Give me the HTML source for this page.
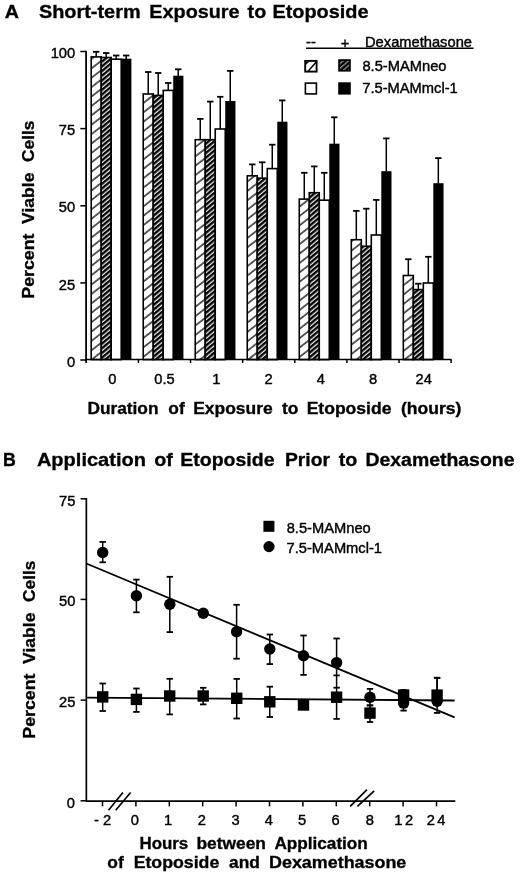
<!DOCTYPE html>
<html><head><meta charset="utf-8"><title>Figure</title>
<style>
html,body{margin:0;padding:0;background:#fff;width:520px;height:874px;overflow:hidden}
svg{display:block;filter:blur(0.4px)}
text{font-family:"Liberation Sans", sans-serif;fill:#000}
</style></head><body>
<svg width="520" height="874" viewBox="0 0 520 874">
<defs>
<pattern id="sp" patternUnits="userSpaceOnUse" width="20" height="7.407" patternTransform="rotate(-38)">
<rect y="5.9" width="20" height="1.25" fill="#000"/>
</pattern>
<pattern id="dn" patternUnits="userSpaceOnUse" width="20" height="3.6" patternTransform="rotate(-40)">
<rect width="20" height="3.6" fill="#000"/><rect y="2.35" width="20" height="1.25" fill="#f0f0f0"/>
</pattern>
<pattern id="dnl" patternUnits="userSpaceOnUse" width="20" height="3.6" y="3.0" patternTransform="rotate(-41)">
<rect width="20" height="3.6" fill="#000"/><rect y="1.2" width="20" height="0.9" fill="#d8d8d8"/>
</pattern>
</defs>
<line x1="96.20" y1="51.80" x2="96.20" y2="56.90" stroke="#000" stroke-width="1.5"/>
<line x1="93.00" y1="51.80" x2="99.40" y2="51.80" stroke="#000" stroke-width="1.8"/>
<rect x="91.20" y="56.90" width="10.00" height="302.70" fill="url(#sp)" stroke="#000" stroke-width="1.6"/>
<line x1="106.20" y1="53.00" x2="106.20" y2="57.50" stroke="#000" stroke-width="1.5"/>
<line x1="103.00" y1="53.00" x2="109.40" y2="53.00" stroke="#000" stroke-width="1.8"/>
<rect x="101.20" y="57.50" width="10.00" height="302.10" fill="url(#dn)" stroke="#000" stroke-width="1.6"/>
<line x1="116.20" y1="55.50" x2="116.20" y2="59.20" stroke="#000" stroke-width="1.5"/>
<line x1="113.00" y1="55.50" x2="119.40" y2="55.50" stroke="#000" stroke-width="1.8"/>
<rect x="111.20" y="59.20" width="10.00" height="300.40" fill="#fff" stroke="#000" stroke-width="1.6"/>
<line x1="126.20" y1="55.50" x2="126.20" y2="59.00" stroke="#000" stroke-width="1.5"/>
<line x1="123.00" y1="55.50" x2="129.40" y2="55.50" stroke="#000" stroke-width="1.8"/>
<rect x="121.20" y="58.70" width="10.20" height="300.90" fill="#000"/>
<line x1="148.22" y1="72.00" x2="148.22" y2="94.00" stroke="#000" stroke-width="1.5"/>
<line x1="145.02" y1="72.00" x2="151.42" y2="72.00" stroke="#000" stroke-width="1.8"/>
<rect x="143.22" y="94.00" width="10.00" height="265.60" fill="url(#sp)" stroke="#000" stroke-width="1.6"/>
<line x1="158.22" y1="73.00" x2="158.22" y2="95.40" stroke="#000" stroke-width="1.5"/>
<line x1="155.02" y1="73.00" x2="161.42" y2="73.00" stroke="#000" stroke-width="1.8"/>
<rect x="153.22" y="95.40" width="10.00" height="264.20" fill="url(#dn)" stroke="#000" stroke-width="1.6"/>
<line x1="168.22" y1="83.00" x2="168.22" y2="90.40" stroke="#000" stroke-width="1.5"/>
<line x1="165.02" y1="83.00" x2="171.42" y2="83.00" stroke="#000" stroke-width="1.8"/>
<rect x="163.22" y="90.40" width="10.00" height="269.20" fill="#fff" stroke="#000" stroke-width="1.6"/>
<line x1="178.22" y1="69.30" x2="178.22" y2="76.00" stroke="#000" stroke-width="1.5"/>
<line x1="175.02" y1="69.30" x2="181.42" y2="69.30" stroke="#000" stroke-width="1.8"/>
<rect x="173.22" y="75.70" width="10.20" height="283.90" fill="#000"/>
<line x1="200.24" y1="118.90" x2="200.24" y2="139.70" stroke="#000" stroke-width="1.5"/>
<line x1="197.04" y1="118.90" x2="203.44" y2="118.90" stroke="#000" stroke-width="1.8"/>
<rect x="195.24" y="139.70" width="10.00" height="219.90" fill="url(#sp)" stroke="#000" stroke-width="1.6"/>
<line x1="210.24" y1="101.60" x2="210.24" y2="139.70" stroke="#000" stroke-width="1.5"/>
<line x1="207.04" y1="101.60" x2="213.44" y2="101.60" stroke="#000" stroke-width="1.8"/>
<rect x="205.24" y="139.70" width="10.00" height="219.90" fill="url(#dn)" stroke="#000" stroke-width="1.6"/>
<line x1="220.24" y1="96.80" x2="220.24" y2="129.00" stroke="#000" stroke-width="1.5"/>
<line x1="217.04" y1="96.80" x2="223.44" y2="96.80" stroke="#000" stroke-width="1.8"/>
<rect x="215.24" y="129.00" width="10.00" height="230.60" fill="#fff" stroke="#000" stroke-width="1.6"/>
<line x1="230.24" y1="70.90" x2="230.24" y2="101.30" stroke="#000" stroke-width="1.5"/>
<line x1="227.04" y1="70.90" x2="233.44" y2="70.90" stroke="#000" stroke-width="1.8"/>
<rect x="225.24" y="101.00" width="10.20" height="258.60" fill="#000"/>
<line x1="252.26" y1="164.40" x2="252.26" y2="175.80" stroke="#000" stroke-width="1.5"/>
<line x1="249.06" y1="164.40" x2="255.46" y2="164.40" stroke="#000" stroke-width="1.8"/>
<rect x="247.26" y="175.80" width="10.00" height="183.80" fill="url(#sp)" stroke="#000" stroke-width="1.6"/>
<line x1="262.26" y1="162.30" x2="262.26" y2="178.20" stroke="#000" stroke-width="1.5"/>
<line x1="259.06" y1="162.30" x2="265.46" y2="162.30" stroke="#000" stroke-width="1.8"/>
<rect x="257.26" y="178.20" width="10.00" height="181.40" fill="url(#dn)" stroke="#000" stroke-width="1.6"/>
<line x1="272.26" y1="144.70" x2="272.26" y2="168.60" stroke="#000" stroke-width="1.5"/>
<line x1="269.06" y1="144.70" x2="275.46" y2="144.70" stroke="#000" stroke-width="1.8"/>
<rect x="267.26" y="168.60" width="10.00" height="191.00" fill="#fff" stroke="#000" stroke-width="1.6"/>
<line x1="282.26" y1="100.40" x2="282.26" y2="122.00" stroke="#000" stroke-width="1.5"/>
<line x1="279.06" y1="100.40" x2="285.46" y2="100.40" stroke="#000" stroke-width="1.8"/>
<rect x="277.26" y="121.70" width="10.20" height="237.90" fill="#000"/>
<line x1="304.28" y1="172.80" x2="304.28" y2="199.10" stroke="#000" stroke-width="1.5"/>
<line x1="301.08" y1="172.80" x2="307.48" y2="172.80" stroke="#000" stroke-width="1.8"/>
<rect x="299.28" y="199.10" width="10.00" height="160.50" fill="url(#sp)" stroke="#000" stroke-width="1.6"/>
<line x1="314.28" y1="166.40" x2="314.28" y2="192.70" stroke="#000" stroke-width="1.5"/>
<line x1="311.08" y1="166.40" x2="317.48" y2="166.40" stroke="#000" stroke-width="1.8"/>
<rect x="309.28" y="192.70" width="10.00" height="166.90" fill="url(#dn)" stroke="#000" stroke-width="1.6"/>
<line x1="324.28" y1="172.80" x2="324.28" y2="200.20" stroke="#000" stroke-width="1.5"/>
<line x1="321.08" y1="172.80" x2="327.48" y2="172.80" stroke="#000" stroke-width="1.8"/>
<rect x="319.28" y="200.20" width="10.00" height="159.40" fill="#fff" stroke="#000" stroke-width="1.6"/>
<line x1="334.28" y1="117.30" x2="334.28" y2="144.00" stroke="#000" stroke-width="1.5"/>
<line x1="331.08" y1="117.30" x2="337.48" y2="117.30" stroke="#000" stroke-width="1.8"/>
<rect x="329.28" y="143.70" width="10.20" height="215.90" fill="#000"/>
<line x1="356.30" y1="210.90" x2="356.30" y2="239.70" stroke="#000" stroke-width="1.5"/>
<line x1="353.10" y1="210.90" x2="359.50" y2="210.90" stroke="#000" stroke-width="1.8"/>
<rect x="351.30" y="239.70" width="10.00" height="119.90" fill="url(#sp)" stroke="#000" stroke-width="1.6"/>
<line x1="366.30" y1="208.70" x2="366.30" y2="246.20" stroke="#000" stroke-width="1.5"/>
<line x1="363.10" y1="208.70" x2="369.50" y2="208.70" stroke="#000" stroke-width="1.8"/>
<rect x="361.30" y="246.20" width="10.00" height="113.40" fill="url(#dn)" stroke="#000" stroke-width="1.6"/>
<line x1="376.30" y1="199.90" x2="376.30" y2="235.00" stroke="#000" stroke-width="1.5"/>
<line x1="373.10" y1="199.90" x2="379.50" y2="199.90" stroke="#000" stroke-width="1.8"/>
<rect x="371.30" y="235.00" width="10.00" height="124.60" fill="#fff" stroke="#000" stroke-width="1.6"/>
<line x1="386.30" y1="138.40" x2="386.30" y2="171.50" stroke="#000" stroke-width="1.5"/>
<line x1="383.10" y1="138.40" x2="389.50" y2="138.40" stroke="#000" stroke-width="1.8"/>
<rect x="381.30" y="171.20" width="10.20" height="188.40" fill="#000"/>
<line x1="408.32" y1="259.20" x2="408.32" y2="275.50" stroke="#000" stroke-width="1.5"/>
<line x1="405.12" y1="259.20" x2="411.52" y2="259.20" stroke="#000" stroke-width="1.8"/>
<rect x="403.32" y="275.50" width="10.00" height="84.10" fill="url(#sp)" stroke="#000" stroke-width="1.6"/>
<line x1="418.32" y1="283.70" x2="418.32" y2="289.60" stroke="#000" stroke-width="1.5"/>
<line x1="415.12" y1="283.70" x2="421.52" y2="283.70" stroke="#000" stroke-width="1.8"/>
<rect x="413.32" y="289.60" width="10.00" height="70.00" fill="url(#dn)" stroke="#000" stroke-width="1.6"/>
<line x1="428.32" y1="256.80" x2="428.32" y2="283.00" stroke="#000" stroke-width="1.5"/>
<line x1="425.12" y1="256.80" x2="431.52" y2="256.80" stroke="#000" stroke-width="1.8"/>
<rect x="423.32" y="283.00" width="10.00" height="76.60" fill="#fff" stroke="#000" stroke-width="1.6"/>
<line x1="438.32" y1="158.10" x2="438.32" y2="183.50" stroke="#000" stroke-width="1.5"/>
<line x1="435.12" y1="158.10" x2="441.52" y2="158.10" stroke="#000" stroke-width="1.8"/>
<rect x="433.32" y="183.20" width="10.20" height="176.40" fill="#000"/>
<line x1="86.1" y1="50.8" x2="86.1" y2="363" stroke="#000" stroke-width="1.8"/>
<line x1="85.3" y1="359.6" x2="451.6" y2="359.6" stroke="#000" stroke-width="1.5"/>
<line x1="138.42" y1="359.6" x2="138.42" y2="363" stroke="#000" stroke-width="1.5"/>
<line x1="190.54" y1="359.6" x2="190.54" y2="363" stroke="#000" stroke-width="1.5"/>
<line x1="242.66" y1="359.6" x2="242.66" y2="363" stroke="#000" stroke-width="1.5"/>
<line x1="294.78" y1="359.6" x2="294.78" y2="363" stroke="#000" stroke-width="1.5"/>
<line x1="346.90" y1="359.6" x2="346.90" y2="363" stroke="#000" stroke-width="1.5"/>
<line x1="399.02" y1="359.6" x2="399.02" y2="363" stroke="#000" stroke-width="1.5"/>
<line x1="451.14" y1="359.6" x2="451.14" y2="363" stroke="#000" stroke-width="1.5"/>
<line x1="80.3" y1="51.5" x2="86.1" y2="51.5" stroke="#000" stroke-width="1.5"/>
<text x="50.64" y="58.10" font-size="14.7" stroke="#000" stroke-width="0.4">100</text>
<line x1="80.3" y1="128.6" x2="86.1" y2="128.6" stroke="#000" stroke-width="1.5"/>
<text x="58.72" y="135.20" font-size="14.7" stroke="#000" stroke-width="0.4">75</text>
<line x1="80.3" y1="205.8" x2="86.1" y2="205.8" stroke="#000" stroke-width="1.5"/>
<text x="58.72" y="212.40" font-size="14.7" stroke="#000" stroke-width="0.4">50</text>
<line x1="80.3" y1="282.9" x2="86.1" y2="282.9" stroke="#000" stroke-width="1.5"/>
<text x="58.72" y="289.50" font-size="14.7" stroke="#000" stroke-width="0.4">25</text>
<line x1="80.3" y1="360.0" x2="86.1" y2="360.0" stroke="#000" stroke-width="1.5"/>
<text x="66.96" y="366.60" font-size="14.7" stroke="#000" stroke-width="0.4">0</text>
<text x="108.24" y="383.80" font-size="14.7" stroke="#000" stroke-width="0.4">0</text>
<text x="154.26" y="383.80" font-size="14.7" stroke="#000" stroke-width="0.4">0.5</text>
<text x="212.26" y="383.80" font-size="14.7" stroke="#000" stroke-width="0.4">1</text>
<text x="264.60" y="383.80" font-size="14.7" stroke="#000" stroke-width="0.4">2</text>
<text x="316.80" y="383.80" font-size="14.7" stroke="#000" stroke-width="0.4">4</text>
<text x="368.92" y="383.80" font-size="14.7" stroke="#000" stroke-width="0.4">8</text>
<text x="415.62" y="383.80" font-size="14.7" stroke="#000" stroke-width="0.4">24</text>
<text transform="translate(4.81,18.30) scale(1.0,0.97)" font-size="19.7" font-weight="bold" stroke="#000" stroke-width="0.35">A</text>
<text transform="translate(38.90,18.30) scale(1.0112,0.97)" font-size="19.7" font-weight="bold" stroke="#000" stroke-width="0.35">Short-term</text>
<text transform="translate(149.31,18.30) scale(1.0061,0.97)" font-size="19.7" font-weight="bold" stroke="#000" stroke-width="0.35">Exposure</text>
<text transform="translate(247.60,18.30) scale(1.0,0.97)" font-size="19.7" font-weight="bold" stroke="#000" stroke-width="0.35">to</text>
<text transform="translate(272.41,18.30) scale(1.0109,0.97)" font-size="19.7" font-weight="bold" stroke="#000" stroke-width="0.35">Etoposide</text>
<text transform="translate(87.39,414.20) scale(0.9949,0.92)" font-size="17.4" font-weight="bold" stroke="#000" stroke-width="0.35">Duration</text>
<text transform="translate(168.30,414.20) scale(1.0,0.92)" font-size="17.4" font-weight="bold" stroke="#000" stroke-width="0.35">of</text>
<text transform="translate(193.18,414.20) scale(1.0035,0.92)" font-size="17.4" font-weight="bold" stroke="#000" stroke-width="0.35">Exposure</text>
<text transform="translate(281.93,414.20) scale(1.0,0.92)" font-size="17.4" font-weight="bold" stroke="#000" stroke-width="0.35">to</text>
<text transform="translate(306.67,414.20) scale(1.0085,0.92)" font-size="17.4" font-weight="bold" stroke="#000" stroke-width="0.35">Etoposide</text>
<text transform="translate(400.92,414.20) scale(1.01,0.92)" font-size="17.4" font-weight="bold" stroke="#000" stroke-width="0.35">(hours)</text>
<text transform="translate(34.20,298.64) rotate(-90) scale(1.0139,0.9)" font-size="17.5" font-weight="bold" stroke="#000" stroke-width="0.35">Percent</text>
<text transform="translate(34.20,223.88) rotate(-90) scale(1.0020,0.9)" font-size="17.5" font-weight="bold" stroke="#000" stroke-width="0.35">Viable</text>
<text transform="translate(34.20,161.89) rotate(-90) scale(0.9895,0.9)" font-size="17.5" font-weight="bold" stroke="#000" stroke-width="0.35">Cells</text>
<text x="306.01" y="46.90" font-size="14.7" stroke="#000" stroke-width="0.4">--</text>
<text x="340.76" y="47.50" font-size="14.7" stroke="#000" stroke-width="0.4">+</text>
<text x="365.02" y="46.90" font-size="14.7" stroke="#000" stroke-width="0.4">Dexamethasone</text>
<line x1="306" y1="48.35" x2="473.6" y2="48.35" stroke="#000" stroke-width="1.5"/>
<rect x="305.2" y="60.9" width="11.4" height="10.7" fill="#fff" stroke="#000" stroke-width="1.9"/>
<path d="M306,61.7 L309.2,61.7 L306,64.8 Z" fill="#000"/>
<line x1="308.1" y1="71.3" x2="316.2" y2="62" stroke="#000" stroke-width="1.5"/>
<rect x="339" y="60.0" width="11" height="10.8" fill="url(#dnl)" stroke="#000" stroke-width="1.6"/>
<rect x="305.4" y="83.1" width="11" height="10.8" fill="#fff" stroke="#000" stroke-width="1.6"/>
<rect x="338.2" y="82.3" width="12.6" height="12.3" fill="#000"/>
<text x="362.41" y="70.80" font-size="14.7" stroke="#000" stroke-width="0.4">8.5-MAMneo</text>
<text x="362.26" y="93.40" font-size="14.7" stroke="#000" stroke-width="0.4">7.5-MAMmcl-1</text>
<text transform="translate(2.96,466.10) scale(0.9,0.97)" font-size="19.7" font-weight="bold" stroke="#000" stroke-width="0.35">B</text>
<text transform="translate(36.90,466.10) scale(1.0171,0.97)" font-size="19.7" font-weight="bold" stroke="#000" stroke-width="0.35">Application</text>
<text transform="translate(154.31,466.10) scale(1.0,0.97)" font-size="19.7" font-weight="bold" stroke="#000" stroke-width="0.35">of</text>
<text transform="translate(180.23,466.10) scale(0.9905,0.97)" font-size="19.7" font-weight="bold" stroke="#000" stroke-width="0.35">Etoposide</text>
<text transform="translate(284.95,466.10) scale(0.9791,0.97)" font-size="19.7" font-weight="bold" stroke="#000" stroke-width="0.35">Prior</text>
<text transform="translate(338.80,466.10) scale(1.0,0.97)" font-size="19.7" font-weight="bold" stroke="#000" stroke-width="0.35">to</text>
<text transform="translate(365.44,466.10) scale(0.9864,0.97)" font-size="19.7" font-weight="bold" stroke="#000" stroke-width="0.35">Dexamethasone</text>
<text transform="translate(35.20,738.64) rotate(-90) scale(1.0139,0.9)" font-size="17.5" font-weight="bold" stroke="#000" stroke-width="0.35">Percent</text>
<text transform="translate(35.20,663.88) rotate(-90) scale(1.0020,0.9)" font-size="17.5" font-weight="bold" stroke="#000" stroke-width="0.35">Viable</text>
<text transform="translate(35.20,601.89) rotate(-90) scale(0.9895,0.9)" font-size="17.5" font-weight="bold" stroke="#000" stroke-width="0.35">Cells</text>
<line x1="86.35" y1="498" x2="86.35" y2="801.15" stroke="#000" stroke-width="1.7"/>
<line x1="85.9" y1="801.15" x2="455.3" y2="801.15" stroke="#000" stroke-width="1.6"/>
<line x1="80.6" y1="498.8" x2="86.35" y2="498.8" stroke="#000" stroke-width="1.5"/>
<text x="59.12" y="505.70" font-size="14.7" stroke="#000" stroke-width="0.4">75</text>
<line x1="80.6" y1="599.4" x2="86.35" y2="599.4" stroke="#000" stroke-width="1.5"/>
<text x="59.12" y="606.30" font-size="14.7" stroke="#000" stroke-width="0.4">50</text>
<line x1="80.6" y1="700.1" x2="86.35" y2="700.1" stroke="#000" stroke-width="1.5"/>
<text x="59.12" y="707.00" font-size="14.7" stroke="#000" stroke-width="0.4">25</text>
<line x1="80.6" y1="800.8" x2="86.35" y2="800.8" stroke="#000" stroke-width="1.5"/>
<text x="66.76" y="807.70" font-size="14.7" stroke="#000" stroke-width="0.4">0</text>
<line x1="102.50" y1="801.15" x2="102.50" y2="806.4" stroke="#000" stroke-width="1.5"/>
<text x="94.12" y="825.30" font-size="14.7" stroke="#000" stroke-width="0.4">- 2</text>
<line x1="135.90" y1="801.15" x2="135.90" y2="806.4" stroke="#000" stroke-width="1.5"/>
<text x="130.68" y="825.30" font-size="14.7" stroke="#000" stroke-width="0.4">0</text>
<line x1="169.30" y1="801.15" x2="169.30" y2="806.4" stroke="#000" stroke-width="1.5"/>
<text x="164.06" y="825.30" font-size="14.7" stroke="#000" stroke-width="0.4">1</text>
<line x1="202.70" y1="801.15" x2="202.70" y2="806.4" stroke="#000" stroke-width="1.5"/>
<text x="197.68" y="825.30" font-size="14.7" stroke="#000" stroke-width="0.4">2</text>
<line x1="236.10" y1="801.15" x2="236.10" y2="806.4" stroke="#000" stroke-width="1.5"/>
<text x="231.46" y="825.30" font-size="14.7" stroke="#000" stroke-width="0.4">3</text>
<line x1="269.50" y1="801.15" x2="269.50" y2="806.4" stroke="#000" stroke-width="1.5"/>
<text x="264.76" y="825.30" font-size="14.7" stroke="#000" stroke-width="0.4">4</text>
<line x1="302.90" y1="801.15" x2="302.90" y2="806.4" stroke="#000" stroke-width="1.5"/>
<text x="297.88" y="825.30" font-size="14.7" stroke="#000" stroke-width="0.4">5</text>
<line x1="336.30" y1="801.15" x2="336.30" y2="806.4" stroke="#000" stroke-width="1.5"/>
<text x="331.58" y="825.30" font-size="14.7" stroke="#000" stroke-width="0.4">6</text>
<line x1="369.70" y1="801.15" x2="369.70" y2="806.4" stroke="#000" stroke-width="1.5"/>
<text x="365.86" y="825.30" font-size="14.7" stroke="#000" stroke-width="0.4">8</text>
<line x1="403.10" y1="801.15" x2="403.10" y2="806.4" stroke="#000" stroke-width="1.5"/>
<text x="394.30" y="825.30" font-size="14.7" letter-spacing="2.5" stroke="#000" stroke-width="0.4">12</text>
<line x1="436.50" y1="801.15" x2="436.50" y2="806.4" stroke="#000" stroke-width="1.5"/>
<text x="426.67" y="825.30" font-size="14.7" letter-spacing="2.5" stroke="#000" stroke-width="0.4">24</text>
<line x1="108.5" y1="810.3" x2="122.9" y2="792.5" stroke="#000" stroke-width="1.7"/>
<line x1="115.7" y1="810.3" x2="130.6" y2="792.5" stroke="#000" stroke-width="1.7"/>
<line x1="350.2" y1="806.4" x2="367" y2="789.6" stroke="#000" stroke-width="1.7"/>
<line x1="357.4" y1="806.4" x2="374.2" y2="790.8" stroke="#000" stroke-width="1.7"/>
<line x1="86.3" y1="563.5" x2="454.6" y2="717.4" stroke="#000" stroke-width="1.8"/>
<line x1="86.3" y1="697.6" x2="454.6" y2="700.5" stroke="#000" stroke-width="1.8"/>
<line x1="102.70" y1="541.90" x2="102.70" y2="562.30" stroke="#000" stroke-width="1.5"/><line x1="99.50" y1="541.90" x2="105.90" y2="541.90" stroke="#000" stroke-width="1.8"/><line x1="99.50" y1="562.30" x2="105.90" y2="562.30" stroke="#000" stroke-width="1.8"/>
<line x1="136.40" y1="579.60" x2="136.40" y2="612.30" stroke="#000" stroke-width="1.5"/><line x1="133.20" y1="579.60" x2="139.60" y2="579.60" stroke="#000" stroke-width="1.8"/><line x1="133.20" y1="612.30" x2="139.60" y2="612.30" stroke="#000" stroke-width="1.8"/>
<line x1="169.80" y1="576.80" x2="169.80" y2="632.10" stroke="#000" stroke-width="1.5"/><line x1="166.60" y1="576.80" x2="173.00" y2="576.80" stroke="#000" stroke-width="1.8"/><line x1="166.60" y1="632.10" x2="173.00" y2="632.10" stroke="#000" stroke-width="1.8"/>
<line x1="236.60" y1="604.80" x2="236.60" y2="658.70" stroke="#000" stroke-width="1.5"/><line x1="233.40" y1="604.80" x2="239.80" y2="604.80" stroke="#000" stroke-width="1.8"/><line x1="233.40" y1="658.70" x2="239.80" y2="658.70" stroke="#000" stroke-width="1.8"/>
<line x1="269.80" y1="634.50" x2="269.80" y2="664.10" stroke="#000" stroke-width="1.5"/><line x1="266.60" y1="634.50" x2="273.00" y2="634.50" stroke="#000" stroke-width="1.8"/><line x1="266.60" y1="664.10" x2="273.00" y2="664.10" stroke="#000" stroke-width="1.8"/>
<line x1="303.50" y1="635.50" x2="303.50" y2="674.90" stroke="#000" stroke-width="1.5"/><line x1="300.30" y1="635.50" x2="306.70" y2="635.50" stroke="#000" stroke-width="1.8"/><line x1="300.30" y1="674.90" x2="306.70" y2="674.90" stroke="#000" stroke-width="1.8"/>
<line x1="336.60" y1="638.50" x2="336.60" y2="675.40" stroke="#000" stroke-width="1.5"/><line x1="333.40" y1="638.50" x2="339.80" y2="638.50" stroke="#000" stroke-width="1.8"/><line x1="333.40" y1="675.40" x2="339.80" y2="675.40" stroke="#000" stroke-width="1.8"/>
<line x1="370.00" y1="688.90" x2="370.00" y2="705.40" stroke="#000" stroke-width="1.5"/><line x1="366.80" y1="688.90" x2="373.20" y2="688.90" stroke="#000" stroke-width="1.8"/><line x1="366.80" y1="705.40" x2="373.20" y2="705.40" stroke="#000" stroke-width="1.8"/>
<line x1="403.60" y1="697.00" x2="403.60" y2="710.60" stroke="#000" stroke-width="1.5"/><line x1="400.40" y1="697.00" x2="406.80" y2="697.00" stroke="#000" stroke-width="1.8"/><line x1="400.40" y1="710.60" x2="406.80" y2="710.60" stroke="#000" stroke-width="1.8"/>
<line x1="437.10" y1="677.80" x2="437.10" y2="712.90" stroke="#000" stroke-width="1.5"/><line x1="433.90" y1="677.80" x2="440.30" y2="677.80" stroke="#000" stroke-width="1.8"/><line x1="433.90" y1="712.90" x2="440.30" y2="712.90" stroke="#000" stroke-width="1.8"/>
<line x1="102.70" y1="683.50" x2="102.70" y2="711.00" stroke="#000" stroke-width="1.5"/><line x1="99.50" y1="683.50" x2="105.90" y2="683.50" stroke="#000" stroke-width="1.8"/><line x1="99.50" y1="711.00" x2="105.90" y2="711.00" stroke="#000" stroke-width="1.8"/>
<line x1="136.40" y1="688.50" x2="136.40" y2="711.90" stroke="#000" stroke-width="1.5"/><line x1="133.20" y1="688.50" x2="139.60" y2="688.50" stroke="#000" stroke-width="1.8"/><line x1="133.20" y1="711.90" x2="139.60" y2="711.90" stroke="#000" stroke-width="1.8"/>
<line x1="169.70" y1="678.80" x2="169.70" y2="714.40" stroke="#000" stroke-width="1.5"/><line x1="166.50" y1="678.80" x2="172.90" y2="678.80" stroke="#000" stroke-width="1.8"/><line x1="166.50" y1="714.40" x2="172.90" y2="714.40" stroke="#000" stroke-width="1.8"/>
<line x1="203.20" y1="687.80" x2="203.20" y2="704.40" stroke="#000" stroke-width="1.5"/><line x1="200.00" y1="687.80" x2="206.40" y2="687.80" stroke="#000" stroke-width="1.8"/><line x1="200.00" y1="704.40" x2="206.40" y2="704.40" stroke="#000" stroke-width="1.8"/>
<line x1="236.70" y1="678.90" x2="236.70" y2="718.50" stroke="#000" stroke-width="1.5"/><line x1="233.50" y1="678.90" x2="239.90" y2="678.90" stroke="#000" stroke-width="1.8"/><line x1="233.50" y1="718.50" x2="239.90" y2="718.50" stroke="#000" stroke-width="1.8"/>
<line x1="269.80" y1="686.70" x2="269.80" y2="717.00" stroke="#000" stroke-width="1.5"/><line x1="266.60" y1="686.70" x2="273.00" y2="686.70" stroke="#000" stroke-width="1.8"/><line x1="266.60" y1="717.00" x2="273.00" y2="717.00" stroke="#000" stroke-width="1.8"/>
<line x1="336.60" y1="687.70" x2="336.60" y2="718.90" stroke="#000" stroke-width="1.5"/><line x1="333.40" y1="687.70" x2="339.80" y2="687.70" stroke="#000" stroke-width="1.8"/><line x1="333.40" y1="718.90" x2="339.80" y2="718.90" stroke="#000" stroke-width="1.8"/>
<line x1="370.00" y1="705.40" x2="370.00" y2="722.00" stroke="#000" stroke-width="1.5"/><line x1="366.80" y1="705.40" x2="373.20" y2="705.40" stroke="#000" stroke-width="1.8"/><line x1="366.80" y1="722.00" x2="373.20" y2="722.00" stroke="#000" stroke-width="1.8"/>
<line x1="403.60" y1="690.00" x2="403.60" y2="704.00" stroke="#000" stroke-width="1.5"/><line x1="400.40" y1="690.00" x2="406.80" y2="690.00" stroke="#000" stroke-width="1.8"/><line x1="400.40" y1="704.00" x2="406.80" y2="704.00" stroke="#000" stroke-width="1.8"/>
<line x1="437.10" y1="677.80" x2="437.10" y2="704.00" stroke="#000" stroke-width="1.5"/><line x1="433.90" y1="677.80" x2="440.30" y2="677.80" stroke="#000" stroke-width="1.8"/><line x1="433.90" y1="704.00" x2="440.30" y2="704.00" stroke="#000" stroke-width="1.8"/>
<line x1="336.6" y1="675.4" x2="336.6" y2="687.7" stroke="#000" stroke-width="1.5"/>
<circle cx="102.70" cy="552.50" r="5.7" fill="#000"/>
<circle cx="136.40" cy="595.80" r="5.7" fill="#000"/>
<circle cx="169.80" cy="604.30" r="5.7" fill="#000"/>
<circle cx="203.30" cy="613.20" r="5.7" fill="#000"/>
<circle cx="236.60" cy="631.80" r="5.7" fill="#000"/>
<circle cx="269.80" cy="649.00" r="5.7" fill="#000"/>
<circle cx="303.50" cy="655.70" r="5.7" fill="#000"/>
<circle cx="336.60" cy="662.60" r="5.7" fill="#000"/>
<circle cx="370.00" cy="697.20" r="5.7" fill="#000"/>
<circle cx="403.60" cy="703.10" r="5.7" fill="#000"/>
<circle cx="437.10" cy="701.30" r="5.7" fill="#000"/>
<rect x="97.00" y="691.20" width="11.4" height="11.4" fill="#000"/>
<rect x="130.70" y="693.70" width="11.4" height="11.4" fill="#000"/>
<rect x="164.00" y="690.30" width="11.4" height="11.4" fill="#000"/>
<rect x="197.50" y="690.30" width="11.4" height="11.4" fill="#000"/>
<rect x="231.00" y="692.60" width="11.4" height="11.4" fill="#000"/>
<rect x="264.10" y="696.10" width="11.4" height="11.4" fill="#000"/>
<rect x="297.80" y="699.30" width="11.4" height="11.4" fill="#000"/>
<rect x="330.90" y="691.50" width="11.4" height="11.4" fill="#000"/>
<rect x="364.30" y="707.40" width="11.4" height="11.4" fill="#000"/>
<rect x="397.90" y="689.40" width="11.4" height="11.4" fill="#000"/>
<rect x="431.40" y="689.40" width="11.4" height="11.4" fill="#000"/>
<rect x="263.4" y="520.8" width="11" height="11" fill="#000"/>
<circle cx="269" cy="546.6" r="5.6" fill="#000"/>
<text x="286.71" y="533.30" font-size="14.7" stroke="#000" stroke-width="0.4">8.5-MAMneo</text>
<text x="286.56" y="552.70" font-size="14.7" stroke="#000" stroke-width="0.4">7.5-MAMmcl-1</text>
<text transform="translate(139.52,848.80) scale(0.9696,0.92)" font-size="17.4" font-weight="bold" stroke="#000" stroke-width="0.35">Hours</text>
<text transform="translate(196.38,848.80) scale(0.9994,0.92)" font-size="17.4" font-weight="bold" stroke="#000" stroke-width="0.35">between</text>
<text transform="translate(274.38,848.80) scale(0.9872,0.92)" font-size="17.4" font-weight="bold" stroke="#000" stroke-width="0.35">Application</text>
<text transform="translate(107.30,867.90) scale(1.0,0.92)" font-size="17.4" font-weight="bold" stroke="#000" stroke-width="0.35">of</text>
<text transform="translate(133.66,867.90) scale(1.0182,0.92)" font-size="17.4" font-weight="bold" stroke="#000" stroke-width="0.35">Etoposide</text>
<text transform="translate(228.98,867.90) scale(1.0,0.92)" font-size="17.4" font-weight="bold" stroke="#000" stroke-width="0.35">and</text>
<text transform="translate(269.05,867.90) scale(1.0293,0.92)" font-size="17.4" font-weight="bold" stroke="#000" stroke-width="0.35">Dexamethasone</text>
</svg>
</body></html>
